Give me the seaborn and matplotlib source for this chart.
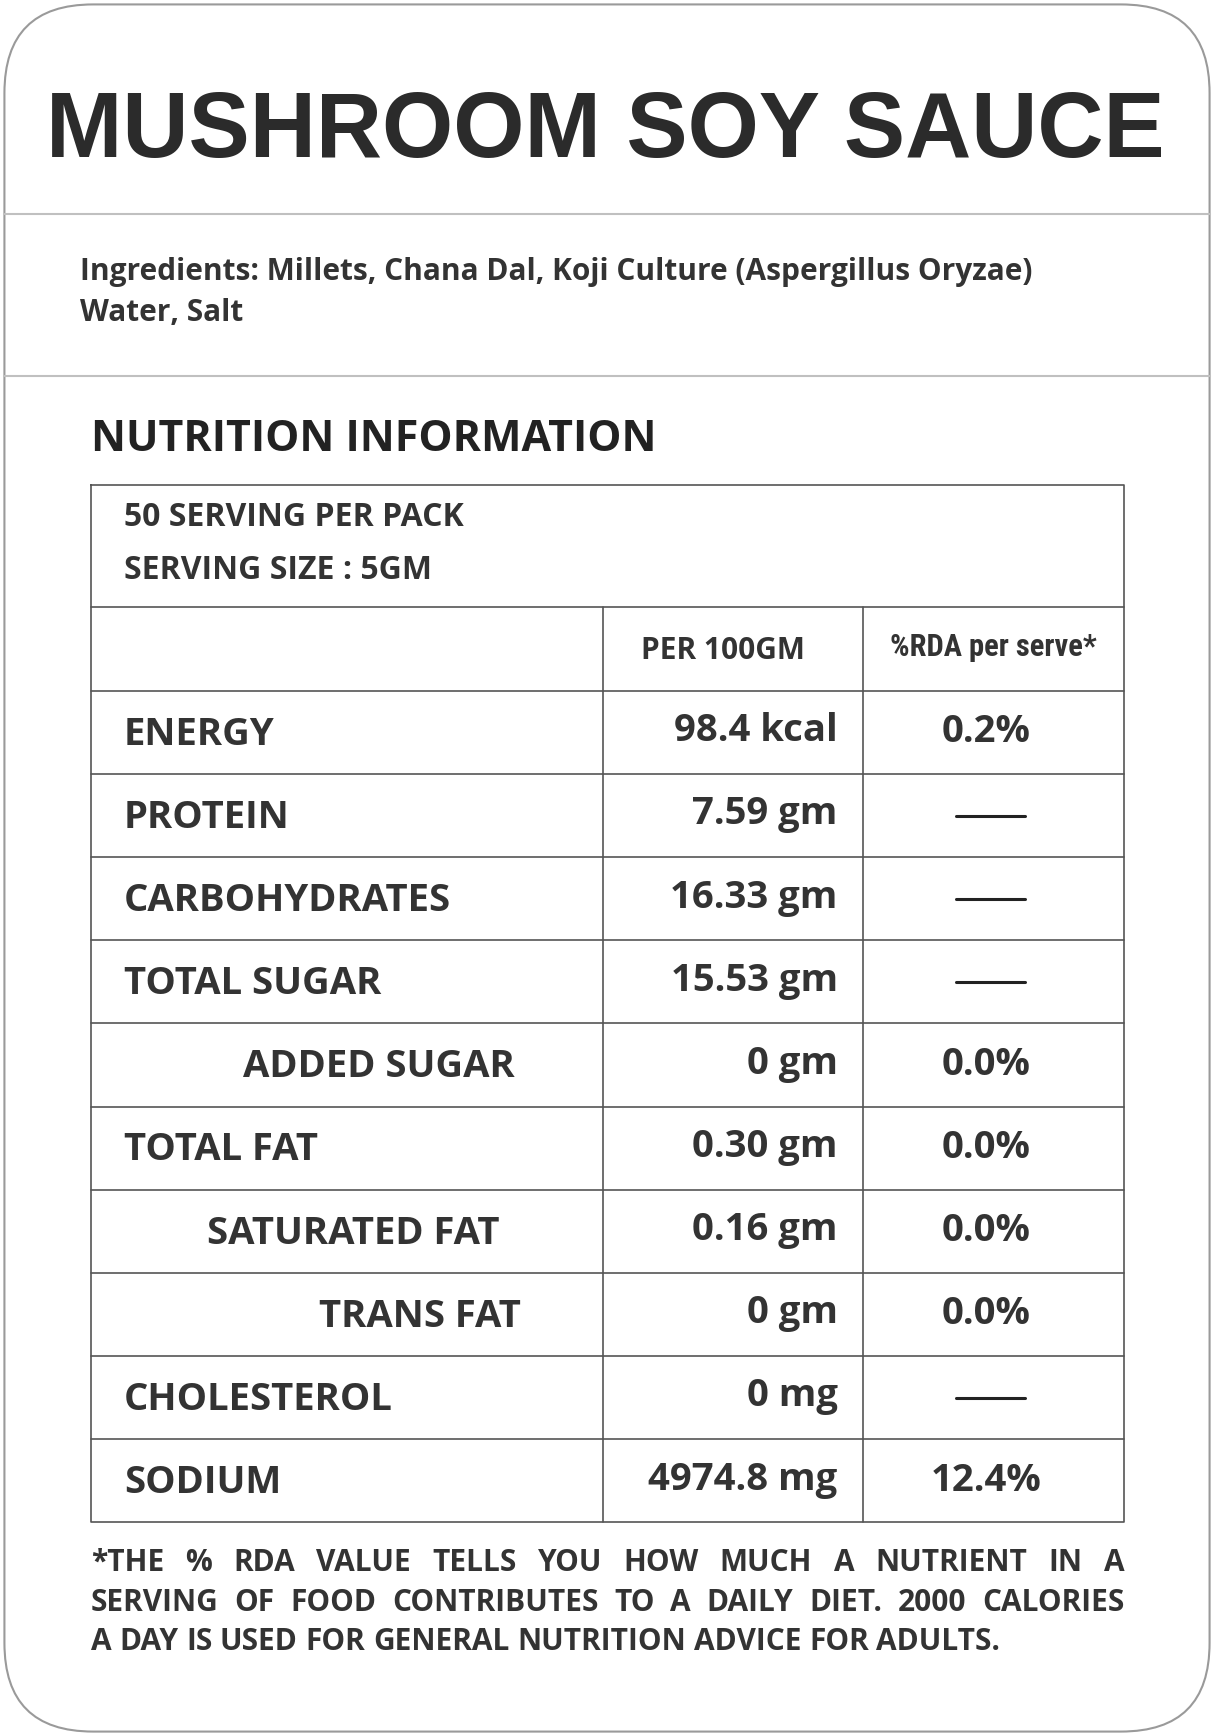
import matplotlib
matplotlib.use("Agg")
from matplotlib import pyplot as plt
from matplotlib.patches import FancyBboxPatch
import seaborn as sns

sns.set_style("white")
plt.rcParams['font.family'] = ['Open Sans', 'DejaVu Sans']

nutrients = ["ENERGY", "PROTEIN", "CARBOHYDRATES", "TOTAL SUGAR", "ADDED SUGAR",
             "TOTAL FAT", "SATURATED FAT", "TRANS FAT", "CHOLESTEROL", "SODIUM"]
amounts = ["98.4 kcal", "7.59 gm", "16.33 gm", "15.53 gm", "0 gm",
           "0.30 gm", "0.16 gm", "0 gm", "0 mg", "4974.8 mg"]
rda = ["0.2%", None, None, None, "0.0%", "0.0%", "0.0%", "0.0%", None, "12.4%"]
label_x = [112, 112, 112, 112, 220, 112, 187, 288, 112, 112]
footer = ["*THE % RDA VALUE TELLS YOU HOW MUCH A NUTRIENT IN A",
          "SERVING OF FOOD CONTRIBUTES TO A DAILY DIET. 2000 CALORIES",
          "A DAY IS USED FOR GENERAL NUTRITION ADVICE FOR ADULTS."]

W, H = 1097, 1568
fig = plt.figure(figsize=(12.14, 17.36), dpi=100)
ax = fig.add_axes([0, 0, 1, 1])
ax.set_xlim(0, W)
ax.set_ylim(H, 0)
ax.axis("off")

dark = "#333333"
grid = "#555555"
B = "bold"

ax.add_patch(FancyBboxPatch((4, 4), W - 8, H - 8, boxstyle="round,pad=0,rounding_size=80",
                            fill=False, ec="#9a9a9a", lw=1.5))
for y in (193, 340):
    ax.plot([4, W - 4], [y, y], color="#c0c0c0", lw=1.5)

ax.text(547, 120, "MUSHROOM SOY SAUCE", family="Liberation Sans", weight="bold",
        fontsize=66, color="#2b2b2b", ha="center", va="center")
ax.text(72, 246, "Ingredients: Millets, Chana Dal, Koji Culture (Aspergillus Oryzae)",
        fontsize=21.5, weight=B, color=dark, va="center")
ax.text(72, 283, "Water, Salt", fontsize=21.5, weight=B, color=dark, va="center")
ax.text(82, 397, "NUTRITION INFORMATION", fontsize=31, weight=B, color="#222222", va="center")

# table
x0, x1, c1, c2 = 82, 1016, 545, 780
tops = [438, 548, 624]
row_h = 75.1
lines_y = tops + [624 + row_h * (i + 1) for i in range(len(nutrients))]
ax.plot([x0, x1, x1, x0, x0], [438, 438, lines_y[-1], lines_y[-1], 438], color=grid, lw=1.2)
for y in lines_y[1:-1]:
    ax.plot([x0, x1], [y, y], color=grid, lw=1.2)
for x in (c1, c2):
    ax.plot([x, x], [548, lines_y[-1]], color=grid, lw=1.2)

ax.text(112, 467, "50 SERVING PER PACK", fontsize=23, weight=B, color=dark, va="center")
ax.text(112, 515, "SERVING SIZE : 5GM", fontsize=23, weight=B, color=dark, va="center")
ax.text(653, 588, "PER 100GM", fontsize=21.5, weight=B, color=dark, ha="center", va="center")
ax.text(898, 584, "%RDA per serve*", fontsize=22, weight=B, color=dark,
        ha="center", va="center", family=["Roboto Condensed", "Liberation Sans Narrow", "Open Sans"],
        stretch="condensed")

for i, name in enumerate(nutrients):
    yc = 624 + row_h * i + row_h / 2
    ax.text(label_x[i], yc + 2, name, fontsize=27.5, weight=B, color=dark, va="center")
    ax.text(757, yc - 1, amounts[i], fontsize=27.5, weight=B, color=dark, ha="right", va="center")
    if rda[i] is None:
        ax.plot([864, 926], [yc, yc], color="#222222", lw=2.2)
    else:
        ax.text(891, yc, rda[i], fontsize=27.5, weight=B, color=dark, ha="center", va="center")

# justified footer
fig.canvas.draw()
r = fig.canvas.get_renderer()
inv = ax.transData.inverted()
for j, line in enumerate(footer):
    y = 1412 + j * 35.5
    words = line.split()
    last = j == len(footer) - 1
    arts = [ax.text(0, y, w, fontsize=21.5, weight=B, color=dark, va="center") for w in words]
    widths = []
    for a in arts:
        bb = a.get_window_extent(r)
        p0 = inv.transform((bb.x0, bb.y0))
        p1 = inv.transform((bb.x1, bb.y0))
        widths.append(p1[0] - p0[0])
    if last:
        sp = 7
    else:
        sp = (x1 - 82 - sum(widths)) / (len(words) - 1)
    x = 82
    for a, w in zip(arts, widths):
        a.set_x(x)
        x += w + sp

fig.savefig("out.png", dpi=100)
